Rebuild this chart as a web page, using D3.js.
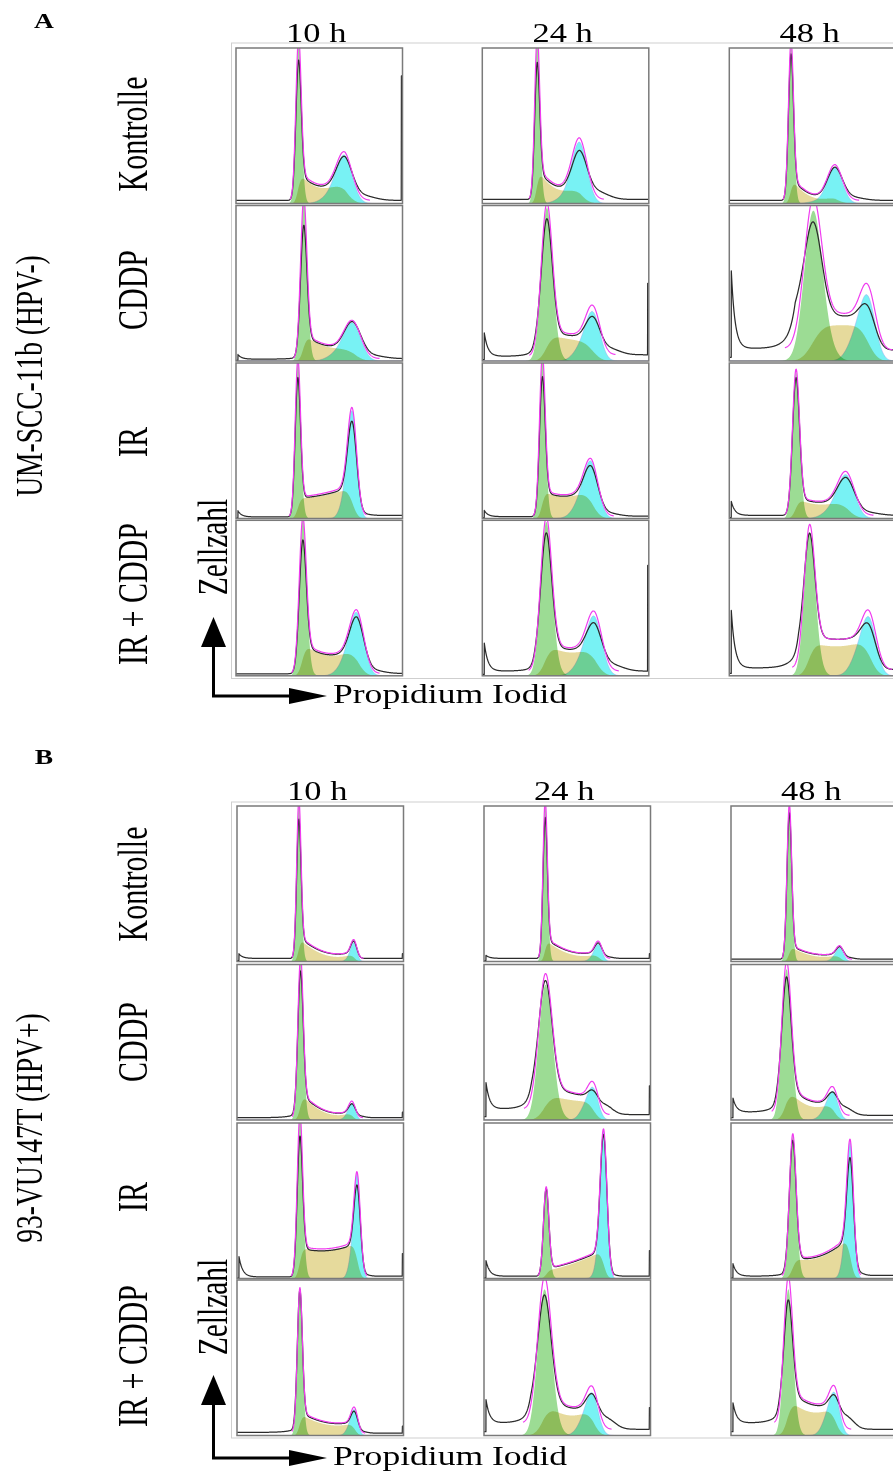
<!DOCTYPE html>
<html>
<head>
<meta charset="utf-8">
<script src="https://cdn.jsdelivr.net/npm/d3@7"></script>
<style>
  html, body { margin: 0; padding: 0; background: #fff; }
  svg { display: block; }
  text { font-family: "Liberation Serif", "Times New Roman", serif; fill: #000; }
</style>
</head>
<body>
<svg id="fig" width="893" height="1474"></svg>
<script>
// ---- labels ----
const panelLetters = ["A", "B"];
const cellLines = ["UM-SCC-11b (HPV-)", "93-VU147T (HPV+)"];
const timePoints = ["10 h", "24 h", "48 h"];
const treatments = ["Kontrolle", "CDDP", "IR", "IR + CDDP"];
const yAxisLabel = "Zellzahl";
const xAxisLabel = "Propidium Iodid";

// ---- DNA histogram model parameters, one entry per histogram ----
// order: panel A then B; within a panel row-major (treatment x time point)
// channel positions are fractions of the PI axis, heights fractions of the cell count axis
const g1Pos = [.375,.329,.370, .406,.386,.500, .371,.360,.400, .400,.382,.480,
               .371,.367,.350, .381,.367,.332, .377,.373,.370, .377,.361,.342];
const g1Sd  = [.016,.015,.015, .019,.033,.052, .016,.017,.021, .021,.033,.032,
               .013,.013,.014, .016,.040,.028, .016,.016,.020, .015,.040,.026];
const g1Fit = [.95,.95,.95, .95,.90,.85, .95,.95,.875, .90,.885,.81,
               .95,.95,.95, .95,.785,.865, .95,.55,.85, .86,.83,.82];
const g1Data = [.81,.78,.87, .78,.80,.68, .835,.815,.825, .76,.785,.74,
                .825,.84,.895, .86,.735,.765, .81,.54,.81, .85,.71,.67];
const sLeft  = [.20,.22,.16, .17,.17,.23, .13,.18,.13, .21,.21,.22,
                .15,.14,.10, .17,.17,.21, .20,.05,.13, .14,.22,.24];
const sMid   = [.10,.09,.04, .09,.14,.23, .15,.14,.09, .13,.15,.19,
                .04,.045,.035, .045,.13,.09, .18,.10,.14, .07,.13,.15];
const sRight = [.17,.13,.06, .10,.12,.23, .20,.20,.13, .19,.20,.24,
                .05,.05,.045, .05,.12,.12, .23,.18,.27, .08,.18,.19];
const sDataRatio = [.90,.90,.90, .92,.92,.93, .93,.93,.93, .93,.93,1.0,
                    .93,.93,.93, .93,.95,.93, .93,.95,.93, .93,.93,.93];
const g2Pos = [.655,.586,.636, .703,.667,.836, .699,.657,.706, .729,.677,.845,
               .703,.689,.656, .693,.659,.616, .723,.719,.717, .707,.655,.626];
const g2Sd  = [.047,.045,.045, .050,.042,.045, .027,.042,.050, .042,.045,.042,
               .018,.022,.022, .020,.030,.030, .019,.020,.020, .020,.035,.030];
const g2Fit = [.225,.33,.20, .195,.255,.30, .59,.265,.215, .31,.28,.25,
               .095,.085,.063, .08,.145,.12, .55,.855,.735, .125,.18,.175];
const g2Data = [.195,.24,.18, .185,.175,.17, .505,.22,.175, .265,.20,.16,
                .087,.072,.055, .062,.075,.075, .47,.82,.62, .098,.117,.10];
const debrisSpike = [0,0,0, .03,.15,.50, .04,.04,.09, 0,.18,.37,
                     .03,.02,0, 0,.17,.09, .13,.10,.08, 0,.15,.13];
const floorLeft  = [.02,.026,.02, .012,.03,.08, .01,.012,.02, .013,.03,.05,
                    .02,.02,.015, .015,.07,.05, .01,.015,.015, .02,.08,.08];
const shoulder   = [0,0,0, .01,.04,.20, 0,0,0, 0,.03,.12,
                    0,0,0, .02,.08,.05, 0,0,.02, .02,.08,.06];
const floorRight = [.02,.026,.02, .015,.04,.07, .02,.015,.02, .015,.03,.04,
                    .02,.02,.015, .015,.035,.03, .015,.015,.02, .015,.04,.04];
const aggTail    = [.03,.05,.02, .02,.04,0, .01,.02,.02, .02,.04,0,
                    0,.01,.01, .01,.06,.05, .01,.01,.02, .01,.07,.08];
const edgeSpike  = [.82,0,0, 0,.50,0, 0,0,0, 0,.71,0,
                    .05,.05,0, .05,.22,0, .16,.18,0, .06,.18,0];

// ---- page layout ----
const cellW = 166.5, cellH = 155.5;
const panelLayout = [
  { colX: [236, 482.3, 729.3], rowY: [48, 205.5, 363, 520.3],
    letterY: 28, titleY: 42, frameTop: 43, frameBottom: 678.5,
    rowLabelY: [134, 290, 442, 594], lineLabelY: 376, zellY: 547,
    arrowTipY: 617, arrowCornerY: 696, xLabelY: 703 },
  { colX: [237, 484, 731], rowY: [806, 964.5, 1123, 1280],
    letterY: 764, titleY: 800, frameTop: 802, frameBottom: 1438,
    rowLabelY: [884, 1042, 1197, 1356], lineLabelY: 1128, zellY: 1307,
    arrowTipY: 1375, arrowCornerY: 1458, xLabelY: 1465 }
];

const colors = { g1: "#9cdc94", s: "#e6da9c", g2: "#78f2f4", data: "#2b2b2b", fit: "#f03cf0" };

// ---- helpers ----
function Phi(z) {
  const x = Math.abs(z) / Math.SQRT2;
  const t = 1 / (1 + 0.3275911 * x);
  const e = 1 - (((((1.061405429 * t - 1.453152027) * t) + 1.421413741) * t - 0.284496736) * t + 0.254829592) * t * Math.exp(-x * x);
  return z >= 0 ? (1 + e) / 2 : (1 - e) / 2;
}
const gauss = (u, m, s) => Math.exp(-0.5 * ((u - m) / s) ** 2);

function histogramModel(i) {
  const m1 = g1Pos[i], s1 = g1Sd[i], m2 = g2Pos[i], s2 = g2Sd[i];
  const mm = (m1 + m2) / 2;
  const quad = u =>
    sLeft[i]  * ((u - mm) * (u - m2)) / ((m1 - mm) * (m1 - m2)) +
    sMid[i]   * ((u - m1) * (u - m2)) / ((mm - m1) * (mm - m2)) +
    sRight[i] * ((u - m1) * (u - mm)) / ((m2 - m1) * (m2 - mm));
  const g1 = u => gauss(u, m1, s1);
  const g2 = u => gauss(u, m2, s2);
  const sPhase = u => Math.max(0, quad(Math.min(Math.max(u, m1), m2))) * Phi((u - m1) / s1) * Phi((m2 - u) / s2);
  const bg = u => u <= m1 ? floorLeft[i] : u >= m2 ? floorRight[i]
                : floorLeft[i] + (floorRight[i] - floorLeft[i]) * (u - m1) / (m2 - m1);
  const c = m1 - 2 * s1;
  const sh = u => u < c ? shoulder[i] * Math.exp((u - c) / 0.05) : shoulder[i] * gauss(u, c, s1);
  const tl = u => aggTail[i] * gauss(u, m2 + 2.2 * s2, 1.5 * s2);
  const spikeL = u => debrisSpike[i] > 0 ? (u < 0.012 ? -bg(u) * 0.7 : debrisSpike[i] * Math.exp(-(u - 0.012) / 0.022)) : 0;
  const fit = u => g1Fit[i] * g1(u) + sPhase(u) + g2Fit[i] * g2(u) + bg(u);
  const data = u => {
    if (edgeSpike[i] > 0 && u >= 0.993) return edgeSpike[i];
    return g1Data[i] * g1(u) + sDataRatio[i] * sPhase(u) + g2Data[i] * g2(u) + bg(u) + sh(u) + tl(u) + spikeL(u);
  };
  // the G1 and G2/M areas are shaded over the S-phase portion that lies beneath each peak
  const g1Area = u => g1Fit[i] * g1(u) + sPhase(u) * Phi((m1 + 2 * s1 - u) / s1);
  const g2Area = u => g2Fit[i] * g2(u) + sPhase(u) * Phi((u - (m2 - 2.5 * s2)) / s2);
  return {
    g1: g1Area, g2: g2Area, s: sPhase, fit, data,
    fitRange: [Math.max(0, m1 - 3.2 * s1), Math.min(1, m2 + 3.2 * s2)],
    peaks: [m1, m2]
  };
}

const svg = d3.select("#fig");
const defs = svg.append("defs");

panelLayout.forEach((L, p) => {
  const g = svg.append("g");

  // light outer frame around the panel grid
  g.append("rect")
    .attr("x", 231.5).attr("y", L.frameTop)
    .attr("width", 700).attr("height", L.frameBottom - L.frameTop)
    .attr("fill", "none").attr("stroke", "#cfcfcf").attr("stroke-width", 1);

  treatments.forEach((tr, r) => {
    timePoints.forEach((tp, c) => {
      const i = p * 12 + r * 3 + c;
      const x0 = L.colX[c], y0 = L.rowY[r];
      const x = d3.scaleLinear().domain([0, 1]).range([x0, x0 + cellW]);
      const y = d3.scaleLinear().domain([0, 1]).range([y0 + cellH, y0]);
      const model = histogramModel(i);

      const clipId = `clip-${p}-${r}-${c}`;
      defs.append("clipPath").attr("id", clipId)
        .append("rect").attr("x", x0).attr("y", y0).attr("width", cellW).attr("height", cellH);

      const cell = g.append("g").style("isolation", "isolate");
      cell.append("rect").attr("x", x0).attr("y", y0).attr("width", cellW).attr("height", cellH).attr("fill", "#fff");

      const samples = d3.range(0, 1.00001, 0.002).concat(model.peaks, [0.0115, 0.0125, 0.9925, 0.9935]).sort(d3.ascending);
      const inner = cell.append("g").attr("clip-path", `url(#${clipId})`);

      const area = fn => d3.area().x(u => x(u)).y0(y(0)).y1(u => y(Math.max(0, fn(u))));
      inner.append("path").datum(samples).attr("d", area(model.g1))
        .attr("fill", colors.g1).style("mix-blend-mode", "multiply");
      inner.append("path").datum(samples).attr("d", area(model.s))
        .attr("fill", colors.s).style("mix-blend-mode", "multiply");
      inner.append("path").datum(samples).attr("d", area(model.g2))
        .attr("fill", colors.g2).attr("stroke", "#9a9af0").attr("stroke-width", 0.6).attr("stroke-opacity", 0.7)
        .style("mix-blend-mode", "multiply");

      const line = fn => d3.line().x(u => x(u)).y(u => y(Math.max(0, fn(u))));
      inner.append("path").datum(samples).attr("d", line(model.data))
        .attr("fill", "none").attr("stroke", colors.data).attr("stroke-width", 1.25).attr("stroke-linejoin", "round");
      const fitSamples = samples.filter(u => u >= model.fitRange[0] && u <= model.fitRange[1]);
      inner.append("path").datum(fitSamples).attr("d", line(model.fit))
        .attr("fill", "none").attr("stroke", colors.fit).attr("stroke-width", 1.2).attr("stroke-linejoin", "round");

      cell.append("rect").attr("x", x0).attr("y", y0).attr("width", cellW).attr("height", cellH)
        .attr("fill", "none").attr("stroke", "#7a7a7a").attr("stroke-width", 1.5);
    });
  });

  // column headers
  timePoints.forEach((tp, c) => {
    g.append("text")
      .attr("transform", `translate(${L.colX[c] + cellW / 2 - 3},${L.titleY}) scale(1.3,1)`)
      .attr("text-anchor", "middle").attr("font-size", 26.5).text(tp);
  });

  // row headers
  treatments.forEach((tr, r) => {
    g.append("text")
      .attr("transform", `translate(147,${L.rowLabelY[r]}) scale(1.4,1) rotate(-90)`)
      .attr("text-anchor", "middle").attr("font-size", 30).text(tr);
  });

  // cell line name
  g.append("text")
    .attr("transform", `translate(42,${L.lineLabelY}) scale(1.4,1) rotate(-90)`)
    .attr("text-anchor", "middle").attr("font-size", 27.5).text(cellLines[p]);

  // panel letter
  g.append("text")
    .attr("transform", `translate(44,${L.letterY}) scale(1.25,1)`)
    .attr("text-anchor", "middle").attr("font-size", 22).attr("font-weight", "bold").text(panelLetters[p]);

  // axis arrows
  const ax = 213.5;
  g.append("path")
    .attr("d", `M${ax},${L.arrowCornerY} L${ax},${L.arrowTipY + 28} M${ax - 1.5},${L.arrowCornerY} L${290},${L.arrowCornerY}`)
    .attr("stroke", "#000").attr("stroke-width", 3).attr("fill", "none");
  g.append("path")
    .attr("d", `M${ax},${L.arrowTipY} L${ax - 12.5},${L.arrowTipY + 30} L${ax + 12.5},${L.arrowTipY + 30} Z`)
    .attr("fill", "#000");
  g.append("path")
    .attr("d", `M${327},${L.arrowCornerY} L${289},${L.arrowCornerY - 8} L${289},${L.arrowCornerY + 8} Z`)
    .attr("fill", "#000");

  g.append("text")
    .attr("transform", `translate(227,${L.zellY}) scale(1.4,1) rotate(-90)`)
    .attr("text-anchor", "middle").attr("font-size", 29.5).text(yAxisLabel);

  g.append("text")
    .attr("transform", `translate(333,${L.xLabelY}) scale(1.27,1)`)
    .attr("text-anchor", "start").attr("font-size", 28).text(xAxisLabel);
});
</script>
</body>
</html>
